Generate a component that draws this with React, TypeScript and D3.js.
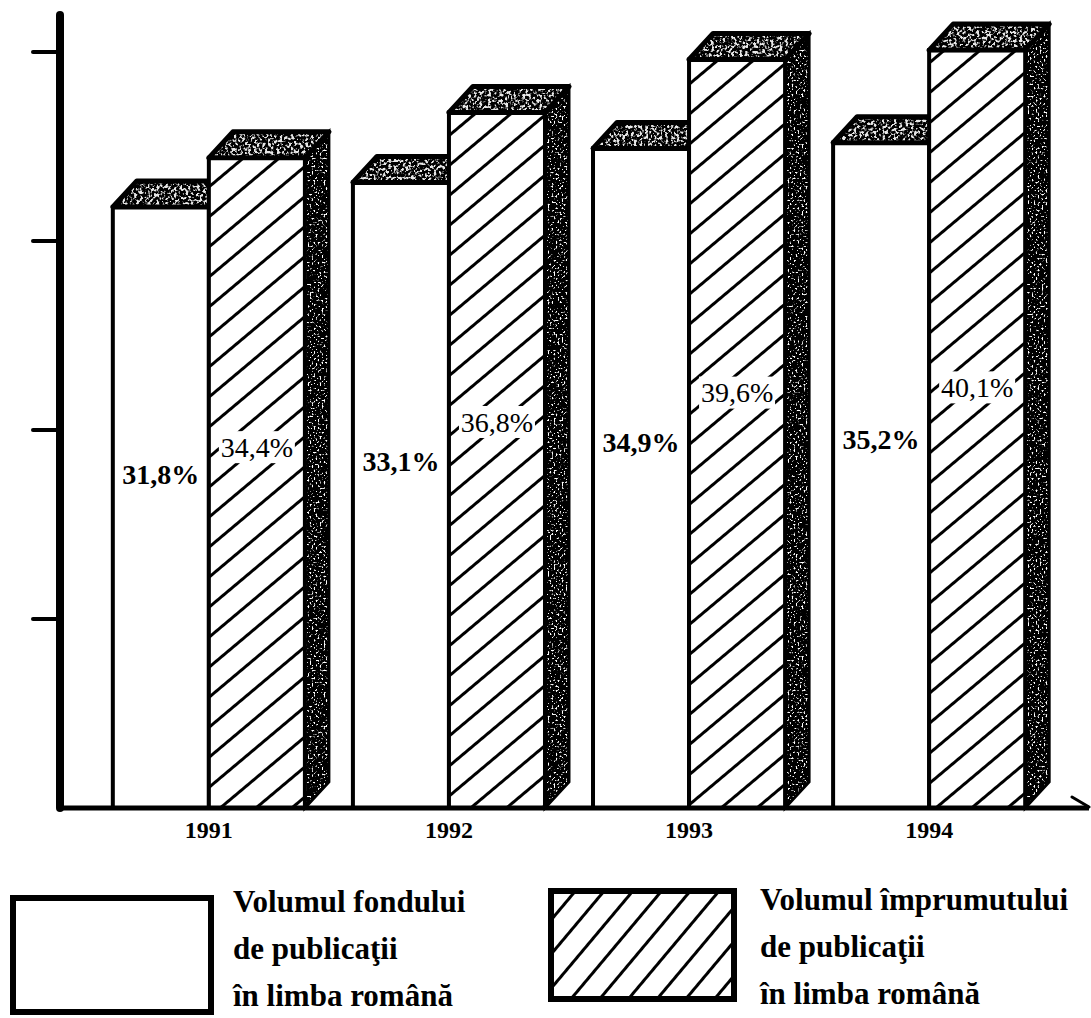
import React from 'react';
import * as d3 from 'd3';

const years = ['1991', '1992', '1993', '1994'];
const fondValues = [31.8, 33.1, 34.9, 35.2];
const imprumutValues = [34.4, 36.8, 39.6, 40.1];
const yTicks = [10, 20, 30, 40];
const legendFond = ['Volumul fondului', 'de publicaţii', 'în limba română'];
const legendImprumut = ['Volumul împrumutului', 'de publicaţii', 'în limba română'];

const W = 1091;
const H = 1018;
const base = 808;
const dx = 24;
const dy = 26;
const serif = '"Liberation Serif", "Times New Roman", serif';

const fmt = (v: number) => v.toFixed(1).replace('.', ',') + '%';

const App: React.FC = () => {
  const x = d3.scaleBand<string>().domain(years).range([60, 1078]).paddingInner(0.2).paddingOuter(0.22);
  const xs = d3.scaleBand<string>().domain(['fond', 'imprumut']).range([0, x.bandwidth()]);
  const y = d3.scaleLinear().domain([0, 40]).range([base, 52]);
  const bw = xs.bandwidth();

  const topFace = (x0: number, top: number) =>
    `M${x0},${top}L${x0 + bw},${top}L${x0 + bw + dx},${top - dy}L${x0 + dx},${top - dy}Z`;
  const sideFace = (x0: number, top: number) =>
    `M${x0 + bw},${top}L${x0 + bw + dx},${top - dy}L${x0 + bw + dx},${base - dy}L${x0 + bw},${base}Z`;

  return (
    <svg width={W} height={H} style={{ position: 'absolute', left: 0, top: 0, background: '#fff' }}>
      <defs>
        <pattern id="hatch" patternUnits="userSpaceOnUse" width="10" height="23" patternTransform="rotate(-40)">
          <rect width="10" height="23" fill="#fff" />
          <line x1="0" y1="1.5" x2="10" y2="1.5" stroke="#000" strokeWidth="3" />
        </pattern>
        <pattern id="hatchLegend" patternUnits="userSpaceOnUse" width="10" height="22" patternTransform="rotate(-50)">
          <rect width="10" height="22" fill="#fff" />
          <line x1="0" y1="1.5" x2="10" y2="1.5" stroke="#000" strokeWidth="3" />
        </pattern>
        <filter id="speckTop" x="0" y="0" width="1" height="1">
          <feTurbulence type="fractalNoise" baseFrequency="0.35" numOctaves="2" seed="4" result="noise" />
          <feColorMatrix in="noise" type="matrix" values="0 0 0 0 0.8  0 0 0 0 0.8  0 0 0 0 0.8  7 0 0 0 -3.4" result="dots" />
          <feComposite in="dots" in2="SourceAlpha" operator="in" />
        </filter>
        <filter id="speckSide" x="0" y="0" width="1" height="1">
          <feTurbulence type="fractalNoise" baseFrequency="0.5" numOctaves="2" seed="9" result="noise" />
          <feColorMatrix in="noise" type="matrix" values="0 0 0 0 1  0 0 0 0 1  0 0 0 0 1  8 0 0 0 -4.6" result="dots" />
          <feComposite in="dots" in2="SourceAlpha" operator="in" />
        </filter>
      </defs>

      {/* bars */}
      {years.map((yr, i) => {
        const gx = x(yr) ?? 0;
        const xf = gx + (xs('fond') ?? 0);
        const xi = gx + (xs('imprumut') ?? 0);
        const tf = y(fondValues[i]);
        const ti = y(imprumutValues[i]);
        return (
          <g key={yr}>
            {/* white bar */}
            <rect x={xf} y={tf} width={bw} height={base - tf} fill="#fff" stroke="#000" strokeWidth={4} />
            <path d={topFace(xf, tf)} fill="#000" />
            <path d={topFace(xf, tf)} fill="#000" filter="url(#speckTop)" />
            <path d={topFace(xf, tf)} fill="none" stroke="#000" strokeWidth={5} strokeLinejoin="round" />
            {/* hatched bar */}
            <path d={sideFace(xi, ti)} fill="#000" />
            <path d={sideFace(xi, ti)} fill="#000" filter="url(#speckSide)" />
            <path d={sideFace(xi, ti)} fill="none" stroke="#000" strokeWidth={3} />
            <rect x={xi} y={ti} width={bw} height={base - ti} fill="url(#hatch)" stroke="#000" strokeWidth={4} />
            <path d={topFace(xi, ti)} fill="#000" />
            <path d={topFace(xi, ti)} fill="#000" filter="url(#speckTop)" />
            <path d={topFace(xi, ti)} fill="none" stroke="#000" strokeWidth={5} strokeLinejoin="round" />
            {/* value labels */}
            <text x={xf + bw / 2} y={y(fondValues[i] * 0.555)} dy="0.35em" textAnchor="middle"
              fontFamily={serif} fontWeight="bold" fontSize={28}>{fmt(fondValues[i])}</text>
            <rect x={xi + bw / 2 - 38} y={y(imprumutValues[i] * 0.555) - 16} width={76} height={32} fill="#fff" />
            <text x={xi + bw / 2} y={y(imprumutValues[i] * 0.555)} dy="0.35em" textAnchor="middle"
              fontFamily={serif} fontSize={28}>{fmt(imprumutValues[i])}</text>
            {/* year */}
            <text x={gx + x.bandwidth() / 2} y={838} textAnchor="middle" fontFamily={serif}
              fontWeight="bold" fontSize={24}>{yr}</text>
          </g>
        );
      })}

      {/* axes */}
      <line x1={60} y1={15} x2={60} y2={base} stroke="#000" strokeWidth={8} strokeLinecap="round" />
      {yTicks.map(t => (
        <line key={t} x1={33} x2={60} y1={y(t)} y2={y(t)} stroke="#000" strokeWidth={4} strokeLinecap="round" />
      ))}
      <line x1={58} y1={base} x2={1089} y2={base} stroke="#000" strokeWidth={5} />
      <line x1={1089} y1={base - 1} x2={1072} y2={base - 11} stroke="#000" strokeWidth={3} strokeLinecap="round" />

      {/* legend */}
      <rect x={13} y={898} width={198} height={114} fill="#fff" stroke="#000" strokeWidth={6} />
      {legendFond.map((s, i) => (
        <text key={i} x={233} y={912 + i * 47} fontFamily={serif} fontWeight="bold" fontSize={31}>{s}</text>
      ))}
      <rect x={551} y={891} width={183} height={108} fill="url(#hatchLegend)" stroke="#000" strokeWidth={6} />
      {legendImprumut.map((s, i) => (
        <text key={i} x={760} y={910 + i * 47} fontFamily={serif} fontWeight="bold" fontSize={31}>{s}</text>
      ))}
    </svg>
  );
};

export default App;
